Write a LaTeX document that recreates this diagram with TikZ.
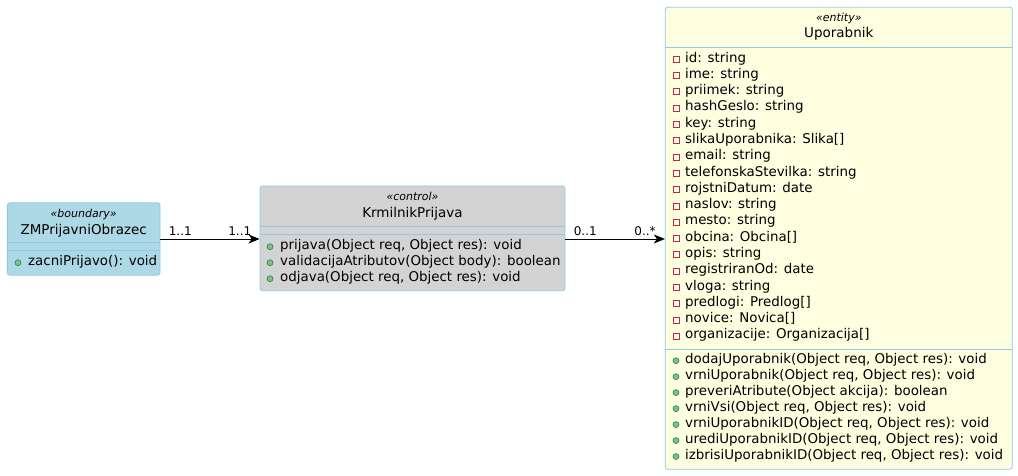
\documentclass[tikz,border=0pt]{standalone}
\usepackage{fontspec}
\setmainfont{DejaVu Sans}
\usetikzlibrary{arrows.meta, positioning, calc}

\definecolor{bndfill}{HTML}{ADD8E6}
\definecolor{ctlfill}{HTML}{D3D3D3}
\definecolor{entfill}{HTML}{FEFEE0}
\definecolor{umlline}{HTML}{8CCBEA}
\definecolor{pubfill}{HTML}{84BE84}
\definecolor{publine}{HTML}{038048}
\definecolor{privline}{HTML}{C82930}

\tikzset{
  classbox/.style={draw=umlline, rounded corners=2.5pt, inner sep=0pt, line width=0.8pt},
  sepline/.style={draw=umlline, line width=0.8pt},
  stereo/.style={font=\fontsize{11}{13}\selectfont\itshape, inner sep=0pt},
  cname/.style={font=\fontsize{13.5}{16}\selectfont, inner sep=0pt},
  member/.style={font=\fontsize{13.4}{16}\selectfont, inner sep=0pt, anchor=mid west},
  mult/.style={font=\fontsize{12}{14}\selectfont, inner sep=0pt},
  pub/.style={fill=pubfill, draw=publine, line width=0.5pt},
  priv/.style={draw=privline, fill=white, line width=0.8pt},
  assoc/.style={-{Stealth[length=11pt, width=9pt, inset=3pt]}, line width=0.9pt},
}

\begin{document}
\begin{tikzpicture}[x=1pt, y=-1pt]
  \useasboundingbox (0,0) rectangle (1018,476);

  % boundary
  \node[classbox, fill=bndfill, minimum width=152.7pt, minimum height=72.3pt] (bnd) at (83.7,239) {};
  \node[stereo] (bndst) at (83.7,214) {«boundary»};
  \node[cname] (bndnm) at (83.7,230.5) {ZMPrijavniObrazec};
  \draw[sepline] (7.3,242.3) -- (160,242.3);
  \draw[sepline] (7.3,250.7) -- (160,250.7);
  \filldraw[pub] (18,262.7) circle (3pt);
  \node[member] (bndm1) at (28,262.7) {zacniPrijavo(): void};

  % control
  \node[classbox, fill=ctlfill, minimum width=305pt, minimum height=104.7pt] (ctl) at (412.5,238.35) {};
  \node[stereo] (ctlst) at (412.5,196.7) {«control»};
  \node[cname] (ctlnm) at (412.5,213.3) {KrmilnikPrijava};
  \draw[sepline] (260,226) -- (565,226);
  \draw[sepline] (260,234.3) -- (565,234.3);
  \foreach \t [count=\i from 0] in {prijava(Object req{,} Object res): void,
      validacijaAtributov(Object body): boolean,
      odjava(Object req{,} Object res): void} {
    \filldraw[pub] (270,246.7+16*\i) circle (3pt);
    \node[member] (ctlm\i) at (280,246.7+16*\i) {\t};
  }

  % entity
  \node[classbox, fill=entfill, minimum width=347pt, minimum height=462pt] (ent) at (838.8,238.3) {};
  \node[stereo] (entst) at (838.8,18) {«entity»};
  \node[cname] (entnm) at (838.8,34) {Uporabnik};
  \draw[sepline] (665.3,47.7) -- (1012.3,47.7);
  \draw[sepline] (665.3,349) -- (1012.3,349);
  \foreach \t [count=\i from 0] in {id: string, ime: string, priimek: string,
      hashGeslo: string, key: string, slikaUporabnika: Slika[], email: string,
      telefonskaStevilka: string, rojstniDatum: date, naslov: string,
      mesto: string, obcina: Obcina[], opis: string, registriranOd: date,
      vloga: string, predlogi: Predlog[], novice: Novica[],
      organizacije: Organizacija[]} {
    \filldraw[priv] (673,56.3+16.29*\i) rectangle +(6,6);
    \node[member] (enta\i) at (685,59.3+16.29*\i) {\t};
  }
  \foreach \t [count=\i from 0] in {dodajUporabnik(Object req{,} Object res): void,
      vrniUporabnik(Object req{,} Object res): void,
      preveriAtribute(Object akcija): boolean,
      vrniVsi(Object req{,} Object res): void,
      vrniUporabnikID(Object req{,} Object res): void,
      urediUporabnikID(Object req{,} Object res): void,
      izbrisiUporabnikID(Object req{,} Object res): void} {
    \filldraw[pub] (676,360.7+15.97*\i) circle (3pt);
    \node[member] (entm\i) at (685,360.7+15.97*\i) {\t};
  }

  % associations
  \draw[assoc] (bnd.east) -- (bnd.east -| ctl.west)
    node[mult, pos=0.2, above=3pt] (bndmul) {1..1}
    node[mult, pos=0.8, above=3pt] (ctlmul) {1..1};
  \draw[assoc] (ctl.east |- bnd.east) -- (ent.west |- bnd.east)
    node[mult, pos=0.2, above=3pt] (ctlmul2) {0..1}
    node[mult, pos=0.8, above=3pt] (entmul) {0..*};
\end{tikzpicture}
\end{document}
